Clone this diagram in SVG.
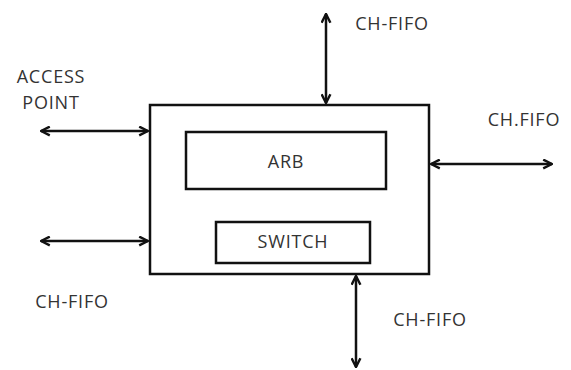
<svg xmlns="http://www.w3.org/2000/svg" width="571" height="370" viewBox="0 0 571 370">
<defs>
<marker id="ah" viewBox="0 0 10 10" refX="9" refY="5" markerWidth="4.4" markerHeight="4.4" orient="auto-start-reverse" markerUnits="strokeWidth">
<path d="M1,1 L9,5 L1,9" fill="none" stroke="#111" stroke-width="2.2"/>
</marker>
<style>
.box{fill:#fff;stroke:#111;stroke-width:2.5}
.lbl{font-family:"Open Sans","Liberation Sans",sans-serif;font-size:18px;letter-spacing:0.8px;fill:#333}
.c{stroke:#111;stroke-width:2.5;fill:none;marker-start:url(#ah);marker-end:url(#ah)}
</style>
</defs>
<rect width="571" height="370" fill="#fff"/>
<g id="main"><rect class="box" x="150" y="105" width="279" height="169"/></g>
<g id="arb"><rect class="box" x="186" y="132" width="200" height="57"/><text class="lbl" x="286" y="168" text-anchor="middle">ARB</text></g>
<g id="switch"><rect class="box" x="216" y="222" width="154" height="41"/><text class="lbl" x="293" y="248" text-anchor="middle">SWITCH</text></g>
<g id="connectors">
<line class="c" x1="41" y1="131" x2="148" y2="131"/>
<line class="c" x1="41" y1="241" x2="148" y2="241"/>
<line class="c" x1="326" y1="14" x2="326" y2="103"/>
<line class="c" x1="431" y1="164" x2="552" y2="164"/>
<line class="c" x1="356" y1="276" x2="356" y2="367"/>
</g>
<g id="labels">
<text class="lbl" x="51" y="83" text-anchor="middle">ACCESS</text>
<text class="lbl" x="51" y="109" text-anchor="middle">POINT</text>
<text class="lbl" x="392" y="30" text-anchor="middle">CH-FIFO</text>
<text class="lbl" x="524" y="126" text-anchor="middle">CH.FIFO</text>
<text class="lbl" x="72" y="308" text-anchor="middle">CH-FIFO</text>
<text class="lbl" x="430" y="326" text-anchor="middle">CH-FIFO</text>
</g>
</svg>
